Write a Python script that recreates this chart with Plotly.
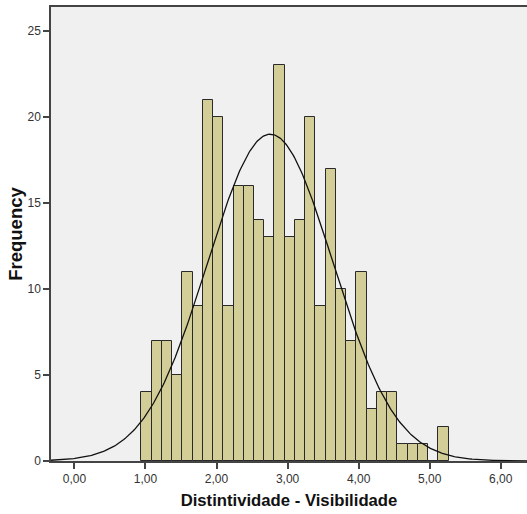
import numpy as np
import plotly.graph_objects as go

# Data
bin_start = 0.942
bin_width = 0.1441
counts = [4, 7, 7, 5, 11, 9, 21, 20, 9, 16, 16, 14, 13, 23, 13, 14, 20, 9, 17, 10,
          7, 11, 3, 4, 4, 1, 1, 1, 0, 2]
fit_mean = 2.757
fit_sd = 0.8835

x_tickvals = [0, 1, 2, 3, 4, 5, 6]
x_ticktext = ["0,00", "1,00", "2,00", "3,00", "4,00", "5,00", "6,00"]
y_tickvals = [0, 5, 10, 15, 20, 25]

n_total = sum(counts)
centers = [bin_start + bin_width * (i + 0.5) for i in range(len(counts))]

x_range = [-0.33, 6.37]
xs = np.linspace(x_range[0], x_range[1], 400)
ys = n_total * bin_width / (fit_sd * np.sqrt(2 * np.pi)) * np.exp(-0.5 * ((xs - fit_mean) / fit_sd) ** 2)

font_family = "Liberation Sans, Arial, sans-serif"

fig = go.Figure()
fig.add_trace(go.Bar(
    x=centers, y=counts, width=bin_width,
    marker=dict(color="#d3ce97", line=dict(color="#2a2a2a", width=1)),
    showlegend=False,
))
fig.add_trace(go.Scatter(
    x=xs, y=ys, mode="lines",
    line=dict(color="#111111", width=1.3),
    showlegend=False,
))

fig.update_layout(
    width=527, height=514,
    margin=dict(l=51, r=0, t=7, b=53),
    paper_bgcolor="white",
    plot_bgcolor="#f0f0f0",
    bargap=0,
    font=dict(family=font_family, size=12, color="#333333"),
)
fig.update_xaxes(
    range=x_range, tickvals=x_tickvals, ticktext=x_ticktext,
    showgrid=False, zeroline=False,
    showline=True, linecolor="#444444", linewidth=1.5, mirror=True,
    ticks="outside", ticklen=6, tickwidth=1.5, tickcolor="#444444",
    tickfont=dict(size=12, color="#333333"),
    title=dict(text="<b>Distintividade - Visibilidade</b>", font=dict(size=16.7, color="#111111"), standoff=9),
)
fig.update_yaxes(
    range=[0, 25 * 454 / 430], tickvals=y_tickvals,
    showgrid=False, zeroline=False,
    showline=True, linecolor="#444444", linewidth=1.5,
    ticks="outside", ticklen=6, tickwidth=1.5, tickcolor="#444444",
    tickfont=dict(size=12, color="#333333"),
    title=dict(text="<b>Frequency</b>", font=dict(size=18.5, color="#111111"), standoff=0),
)

fig.write_html("out.html")
